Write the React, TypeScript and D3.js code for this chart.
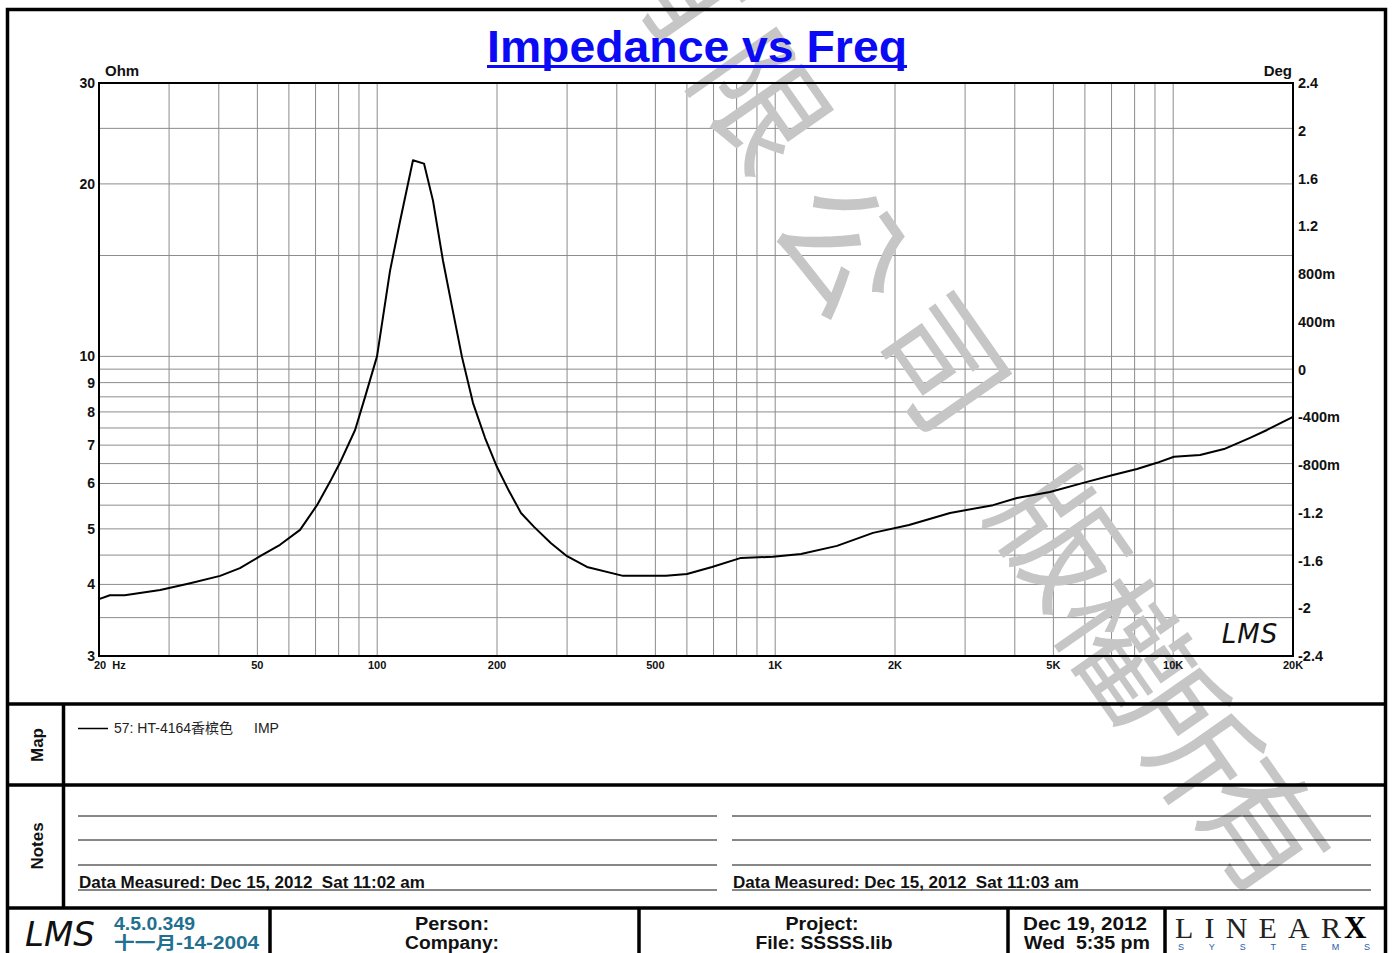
import React from "react";
import * as d3 from "d3";

// ---------- data ----------
const freqHz = [20, 21.3, 23.2, 28.5, 33.9, 40.3, 45.2, 50.8, 57.0, 64.0, 70.6, 76.1, 80.6, 88.0, 93.2, 99.9, 107.7, 114.1, 123, 131.1, 138.1, 146.3, 154.2, 163.3, 174.1, 186.6, 200, 214.4, 229.8, 247.8, 273.4, 299.9, 336.6, 414.7, 531.8, 600.4, 693.8, 820.4, 987.5, 1161, 1430, 1761, 2169, 2750, 3526, 4050, 4901, 6072, 7058, 8110, 9104, 10046, 11678, 13418, 15596, 17208, 20000];
const impedanceOhm = [3.77, 3.83, 3.83, 3.91, 4.02, 4.14, 4.27, 4.48, 4.69, 4.98, 5.5, 6.04, 6.52, 7.44, 8.49, 10.0, 14.1, 17.2, 22.0, 21.7, 18.7, 14.7, 12.2, 9.98, 8.29, 7.21, 6.41, 5.82, 5.33, 5.04, 4.72, 4.48, 4.29, 4.14, 4.14, 4.17, 4.29, 4.45, 4.47, 4.52, 4.67, 4.92, 5.08, 5.33, 5.5, 5.66, 5.8, 6.04, 6.21, 6.36, 6.52, 6.68, 6.73, 6.89, 7.21, 7.44, 7.84];

const xTickValues = [20, 50, 100, 200, 500, 1000, 2000, 5000, 10000, 20000];
const xTickLabels = ["20  Hz", "50", "100", "200", "500", "1K", "2K", "5K", "10K", "20K"];
const xGridValues = [30, 40, 50, 60, 70, 80, 90, 100, 200, 300, 400, 500, 600, 700, 800, 900, 1000, 2000, 3000, 4000, 5000, 6000, 7000, 8000, 9000, 10000];
const leftTickValues = [30, 20, 10, 9, 8, 7, 6, 5, 4, 3];
const leftGridValues = [3.5, 4, 4.5, 5, 5.5, 6, 6.5, 7, 7.5, 8, 8.5, 9, 9.5, 10, 15, 20, 25];
const rightTickValues = [2.4, 2, 1.6, 1.2, 0.8, 0.4, 0, -0.4, -0.8, -1.2, -1.6, -2, -2.4];
const rightTickLabels = ["2.4", "2", "1.6", "1.2", "800m", "400m", "0", "-400m", "-800m", "-1.2", "-1.6", "-2", "-2.4"];

const titleText = "Impedance vs Freq";
const legendText = "57: HT-4164香槟色";
const legendKind = "IMP";
const noteLeft = "Data Measured: Dec 15, 2012  Sat 11:02 am";
const noteRight = "Data Measured: Dec 15, 2012  Sat 11:03 am";
const watermarkChars = ["有", "限", "公", "司", "版", "權", "所", "有"];
// approximate glyph centres of the diagonal watermark (page pixels)
const watermarkCentres: [number, number][] = [[688, -28], [768, 96], [850, 243], [948, 358], [1066, 533], [1130, 640], [1197, 732], [1270, 822]];

// ---------- layout ----------
const L = 99, R = 1293, T = 83, B = 656;
const FONT = "'Liberation Sans', Arial, sans-serif";

export default function App() {
  const x = d3.scaleLog().domain([20, 20000]).range([L, R]);
  const yL = d3.scaleLog().domain([3, 30]).range([B, T]);
  const yR = d3.scaleLinear().domain([-2.4, 2.4]).range([B, T]);
  const pts: [number, number][] = freqHz.map((f, i) => [f, impedanceOhm[i]]);
  const path = d3.line<[number, number]>().x(d => x(d[0])).y(d => yL(d[1]))(pts) || "";

  const grid = "#8c8c8c";
  const wmAngle = 55;

  const noteLinesY = [816, 840, 865];
  const bottomY = 972;

  return (
    <svg width={1393} height={953} style={{ position: "absolute", left: 0, top: 0, background: "#fff" }} fontFamily={FONT}>
      <rect x={0} y={0} width={1393} height={953} fill="#fff" />

      {/* grid */}
      {xGridValues.map(v => (
        <line key={"vx" + v} x1={x(v)} x2={x(v)} y1={T} y2={B} stroke={grid} strokeWidth={1} />
      ))}
      {leftGridValues.map(v => (
        <line key={"hy" + v} x1={L} x2={R} y1={yL(v)} y2={yL(v)} stroke={grid} strokeWidth={1} />
      ))}

      {/* watermark */}
      {watermarkChars.map((c, i) => (
        <text key={"wm" + i} transform={`translate(${watermarkCentres[i][0]},${watermarkCentres[i][1]}) rotate(${wmAngle})`} fontSize={128} fontFamily="'Noto Sans CJK TC', 'Noto Sans CJK SC', sans-serif" fontWeight={400} fill="#c6c6c6" textAnchor="middle" dominantBaseline="central">{c}</text>
      ))}

      {/* plot frame */}
      <rect x={L} y={T} width={R - L} height={B - T} fill="none" stroke="#000" strokeWidth={2} />

      {/* left axis labels */}
      {leftTickValues.map(v => (
        <text key={"lt" + v} x={95} y={yL(v)} dy="0.35em" textAnchor="end" fontSize={14} fontWeight="bold" fill="#111">{v}</text>
      ))}
      <text x={105} y={76} fontSize={15} fontWeight="bold" fill="#111">Ohm</text>

      {/* right axis labels */}
      {rightTickValues.map((v, i) => (
        <text key={"rt" + i} x={1298} y={yR(v)} dy="0.35em" fontSize={14.5} fontWeight="bold" fill="#111">{rightTickLabels[i]}</text>
      ))}
      <text x={1292} y={76} textAnchor="end" fontSize={15} fontWeight="bold" fill="#111">Deg</text>

      {/* x labels */}
      {xTickValues.map((v, i) => (
        <text key={"xt" + v} x={i === 0 ? x(v) - 5 : x(v)} y={669} textAnchor={i === 0 ? "start" : "middle"} fontSize={11} fontWeight="bold" fill="#111" style={{ whiteSpace: "pre" }}>{xTickLabels[i]}</text>
      ))}

      {/* in-plot LMS mark */}
      <text x={1250} y={643} textAnchor="middle" fontSize={26} fontStyle="italic" fontWeight={200} fontFamily="'DejaVu Sans', sans-serif" fill="#111" letterSpacing={1}>LMS</text>

      {/* title */}
      <text x={697} y={62} textAnchor="middle" fontSize={44} fontWeight="bold" fill="#0a0af5" textLength={420} lengthAdjust="spacingAndGlyphs">{titleText}</text>
      <line x1={487} x2={907} y1={66.5} y2={66.5} stroke="#0a0af5" strokeWidth={3} />

      {/* outer frame and section lines */}
      <line x1={7} x2={1386} y1={704} y2={704} stroke="#000" strokeWidth={3.5} />
      <line x1={7} x2={1386} y1={785} y2={785} stroke="#000" strokeWidth={3.5} />
      <line x1={7} x2={1386} y1={908} y2={908} stroke="#000" strokeWidth={3.5} />
      <line x1={63.5} x2={63.5} y1={704} y2={908} stroke="#000" strokeWidth={3.5} />
      {[270, 639, 1008, 1165].map(v => (
        <line key={"fv" + v} x1={v} x2={v} y1={908} y2={bottomY} stroke="#000" strokeWidth={3.5} />
      ))}
      <rect x={7.5} y={9.5} width={1378} height={bottomY} fill="none" stroke="#000" strokeWidth={3.5} />

      {/* side labels */}
      <text transform="translate(43,745) rotate(-90)" textAnchor="middle" fontSize={17} fontWeight="bold" fill="#111">Map</text>
      <text transform="translate(43,846) rotate(-90)" textAnchor="middle" fontSize={17} fontWeight="bold" fill="#111">Notes</text>

      {/* legend */}
      <line x1={78} x2={108} y1={728.5} y2={728.5} stroke="#000" strokeWidth={1.5} />
      <text x={114} y={733} fontSize={14} fill="#222" fontFamily="'Liberation Sans', 'Noto Sans CJK SC', sans-serif">{legendText}</text>
      <text x={254} y={733} fontSize={14} fill="#222">{legendKind}</text>

      {/* notes */}
      {noteLinesY.map(v => (
        <g key={"nl" + v}>
          <line x1={78} x2={717} y1={v} y2={v} stroke="#111" strokeWidth={1} />
          <line x1={732} x2={1371} y1={v} y2={v} stroke="#111" strokeWidth={1} />
        </g>
      ))}
      <line x1={78} x2={717} y1={890} y2={890} stroke="#111" strokeWidth={1} />
      <line x1={732} x2={1371} y1={890} y2={890} stroke="#111" strokeWidth={1} />
      <text x={79} y={888} fontSize={17} fontWeight="bold" fill="#111" style={{ whiteSpace: "pre" }}>{noteLeft}</text>
      <text x={733} y={888} fontSize={17} fontWeight="bold" fill="#111" style={{ whiteSpace: "pre" }}>{noteRight}</text>

      {/* footer */}
      <text x={60} y={946} textAnchor="middle" fontSize={34} fontStyle="italic" fontWeight={200} fontFamily="'DejaVu Sans', sans-serif" fill="#111">LMS</text>
      <text x={114} y={930} fontSize={17.5} fontWeight="bold" fill="#22708f" textLength={81} lengthAdjust="spacingAndGlyphs">4.5.0.349</text>
      <text x={114} y={948.5} fontSize={17.5} fontWeight="bold" fill="#22708f" fontFamily="'Liberation Sans', 'Noto Sans CJK SC', sans-serif" textLength={145} lengthAdjust="spacingAndGlyphs">十一月-14-2004</text>
      <text x={452} y={930} textAnchor="middle" fontSize={17.5} fontWeight="bold" fill="#111" textLength={74} lengthAdjust="spacingAndGlyphs">Person:</text>
      <text x={452} y={948.5} textAnchor="middle" fontSize={17.5} fontWeight="bold" fill="#111" textLength={94} lengthAdjust="spacingAndGlyphs">Company:</text>
      <text x={822} y={930} textAnchor="middle" fontSize={17.5} fontWeight="bold" fill="#111" textLength={73} lengthAdjust="spacingAndGlyphs">Project:</text>
      <text x={824} y={948.5} textAnchor="middle" fontSize={17.5} fontWeight="bold" fill="#111" textLength={137} lengthAdjust="spacingAndGlyphs">File: SSSSS.lib</text>
      <text x={1085} y={930} textAnchor="middle" fontSize={17.5} fontWeight="bold" fill="#111" textLength={124} lengthAdjust="spacingAndGlyphs">Dec 19, 2012</text>
      <text x={1087} y={948.5} textAnchor="middle" fontSize={17.5} fontWeight="bold" fill="#111" style={{ whiteSpace: "pre" }} textLength={126} lengthAdjust="spacingAndGlyphs">Wed  5:35 pm</text>
      <text x={1175} y={938} fontSize={30} fontFamily="'Liberation Serif', serif" fill="#222" textLength={166} lengthAdjust="spacing">LINEAR</text>
      <text x={1344} y={938} fontSize={31} fontWeight="bold" fontFamily="'Liberation Serif', serif" fill="#000">X</text>
      <text x={1178} y={950} fontSize={9} fill="#2a5aa8" textLength={192} lengthAdjust="spacing">SYSTEMS</text>

      {/* curve */}
      <path d={path} fill="none" stroke="#000" strokeWidth={2} strokeLinejoin="round" />
    </svg>
  );
}
